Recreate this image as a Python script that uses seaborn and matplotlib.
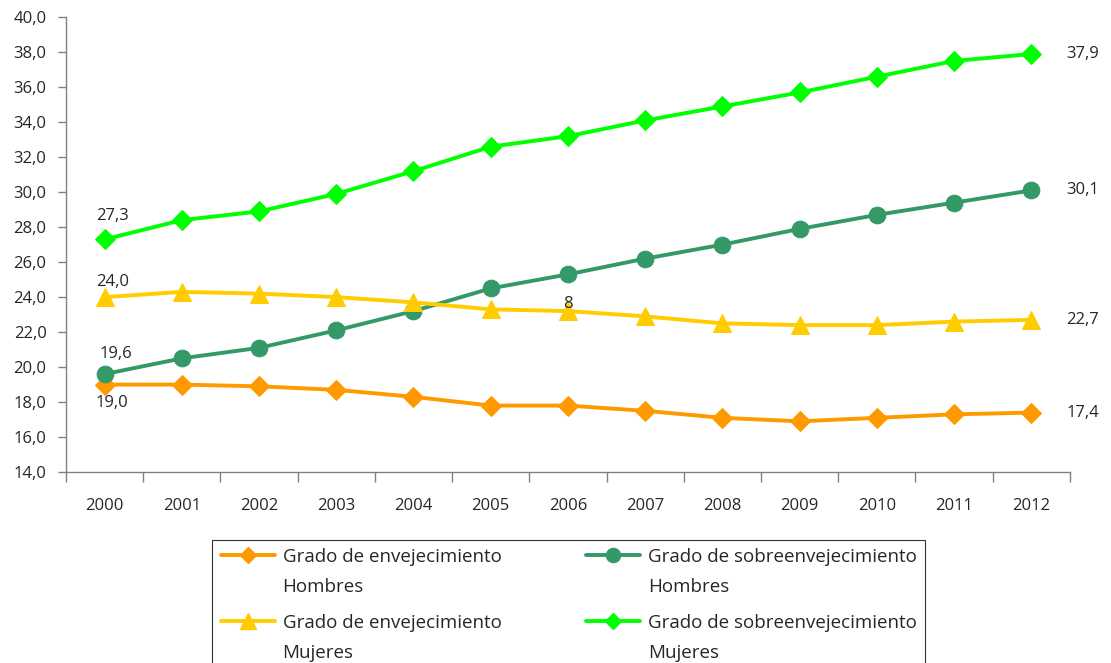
import pandas as pd
import seaborn as sns
import matplotlib.pyplot as plt
from matplotlib.lines import Line2D

# data
years = ['2000', '2001', '2002', '2003', '2004', '2005', '2006',
         '2007', '2008', '2009', '2010', '2011', '2012']
env_hombres = [19.0, 19.0, 18.9, 18.7, 18.3, 17.8, 17.8, 17.5, 17.1, 16.9, 17.1, 17.3, 17.4]
env_mujeres = [24.0, 24.3, 24.2, 24.0, 23.7, 23.3, 23.2, 22.9, 22.5, 22.4, 22.4, 22.6, 22.7]
sobre_hombres = [19.6, 20.5, 21.1, 22.1, 23.2, 24.5, 25.3, 26.2, 27.0, 27.9, 28.7, 29.4, 30.1]
sobre_mujeres = [27.3, 28.4, 28.9, 29.9, 31.2, 32.6, 33.2, 34.1, 34.9, 35.7, 36.6, 37.5, 37.9]

labels = ['Grado de envejecimiento\nHombres', 'Grado de sobreenvejecimiento\nHombres',
          'Grado de envejecimiento\nMujeres', 'Grado de sobreenvejecimiento\nMujeres']

sns.set_theme(style="white")
plt.rcParams['font.family'] = ['Open Sans', 'DejaVu Sans']

fig = plt.figure(figsize=(11.11, 6.63), dpi=100)
ax = fig.add_axes([0.0594, 0.288, 0.9036, 0.686])

pos = list(range(len(years)))
series = [
    (env_hombres, '#FF9900', 'D', 10, labels[0]),
    (sobre_hombres, '#339966', 'o', 12, labels[1]),
    (env_mujeres, '#FFCC00', '^', 13, labels[2]),
    (sobre_mujeres, '#00FF00', 'D', 10, labels[3]),
]
for vals, col, mk, ms, lab in series:
    df = pd.DataFrame({'x': pos, 'y': vals})
    sns.lineplot(data=df, x='x', y='y', ax=ax, color=col, marker=mk, markersize=ms,
                 markeredgecolor=col, linewidth=2.8)

fs = 12
ax.set_xlim(-0.5, len(years) - 0.5)
ax.set_ylim(14, 40)
ax.set_yticks([14 + 2 * i for i in range(14)])
ax.set_yticklabels([f'{14 + 2 * i:.1f}'.replace('.', ',') for i in range(14)], fontsize=fs)

# category boundaries as major ticks, labels on minor ticks
ax.set_xticks([p - 0.5 for p in pos] + [len(years) - 0.5])
ax.set_xticklabels([])
ax.set_xticks(pos, minor=True)
ax.set_xticklabels(years, minor=True, fontsize=fs)
ax.tick_params(axis='x', which='major', direction='out', length=7, width=1, color='#808080', bottom=True)
ax.tick_params(axis='x', which='minor', length=0, pad=19)
ax.tick_params(axis='y', direction='out', length=6, width=1, color='#808080', left=True, pad=8)
ax.set_xlabel('')
ax.set_ylabel('')
for s in ['top', 'right']:
    ax.spines[s].set_visible(False)
for s in ['left', 'bottom']:
    ax.spines[s].set_color('#808080')
    ax.spines[s].set_linewidth(1)

# data labels
ax.text(0.1, sobre_mujeres[0] + 0.9, '27,3', ha='center', va='bottom', fontsize=fs)
ax.text(0.1, env_mujeres[0] + 0.4, '24,0', ha='center', va='bottom', fontsize=fs)
ax.text(0.15, sobre_hombres[0] + 0.7, '19,6', ha='center', va='bottom', fontsize=fs)
ax.text(0.1, env_hombres[0] - 0.6, '19,0', ha='center', va='top', fontsize=fs)
last = len(years) - 1
for vals, txt in [(sobre_mujeres, '37,9'), (sobre_hombres, '30,1'),
                  (env_mujeres, '22,7'), (env_hombres, '17,4')]:
    ax.text(last + 0.45, vals[-1], txt, ha='left', va='center', fontsize=fs)
ax.text(6, env_mujeres[6] + 0.4, '8', ha='center', va='center', fontsize=fs)

handles = [Line2D([], [], color=c, marker=m, markersize=ms * 0.85, linewidth=2.8)
           for _, c, m, ms, _ in series]
hl = [handles[0], handles[2], handles[1], handles[3]]
ll = [labels[0], labels[2], labels[1], labels[3]]
leg = fig.legend(hl, ll, loc='upper left', bbox_to_anchor=(0.191, 0.1855), ncol=2,
                 fontsize=13.5, frameon=True, fancybox=False, edgecolor='black',
                 handlelength=2.9, handletextpad=0.4, columnspacing=4.5,
                 labelspacing=0.95, borderpad=0.45, borderaxespad=0)
leg.get_frame().set_linewidth(0.8)
for t in leg.get_texts():
    t.set_linespacing(1.85)
# put the handle next to the first line of each label
for col in leg._legend_handle_box.get_children():
    for row in col.get_children():
        row.align = 'top'

fig.savefig('out.png', dpi=100)
